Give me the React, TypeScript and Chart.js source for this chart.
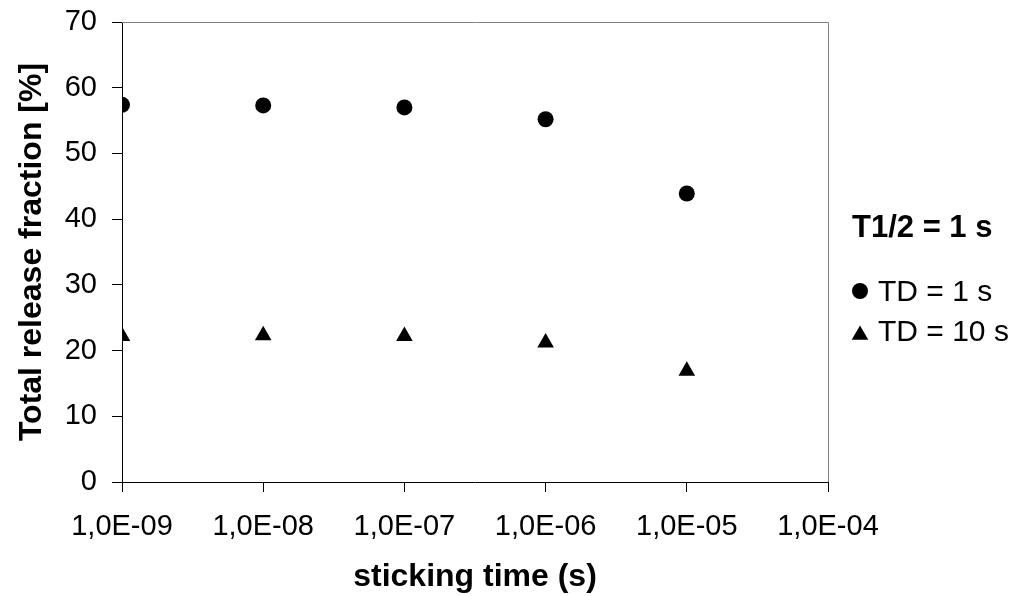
import React, { useEffect, useRef } from "react";
import { Chart, registerables } from "chart.js";

Chart.register(...registerables);

const stickingTimes = [1e-9, 1e-8, 1e-7, 1e-6, 1e-5];
const td1Values = [57.4, 57.3, 57.0, 55.2, 43.9];
const td10Values = [22.2, 22.3, 22.2, 21.2, 16.9];
const xTickValues = [1e-9, 1e-8, 1e-7, 1e-6, 1e-5, 1e-4];
const xTickLabels = ["1,0E-09", "1,0E-08", "1,0E-07", "1,0E-06", "1,0E-05", "1,0E-04"];
const yTickValues = [0, 10, 20, 30, 40, 50, 60, 70];
const seriesLabels = ["TD = 1 s", "TD = 10 s"];
const legendTitle = "T1/2 = 1 s";
const xTitle = "sticking time (s)";
const yTitle = "Total release fraction [%]";

const FONT = '"Liberation Sans", Arial, sans-serif';

const framePlugin = {
  id: "frame",
  afterDraw(chart: any) {
    const { ctx, chartArea } = chart;
    ctx.save();
    ctx.strokeStyle = "#808080";
    ctx.lineWidth = 1;
    ctx.beginPath();
    const t = Math.round(chartArea.top) + 0.5;
    const r = Math.round(chartArea.right) + 0.5;
    ctx.moveTo(Math.round(chartArea.left), t);
    ctx.lineTo(r, t);
    ctx.lineTo(r, Math.round(chartArea.bottom));
    ctx.stroke();
    ctx.restore();
  },
};

const legendPlugin = {
  id: "customLegend",
  afterDraw(chart: any) {
    const { ctx } = chart;
    ctx.save();
    ctx.fillStyle = "#000";
    ctx.textBaseline = "alphabetic";
    ctx.textAlign = "left";
    ctx.font = `bold 31px ${FONT}`;
    ctx.fillText(legendTitle, 852, 237);
    ctx.font = `30px ${FONT}`;
    const baselines = [301, 341];
    chart.data.datasets.forEach((ds: any, i: number) => {
      const b = baselines[i];
      ctx.beginPath();
      if (ds.pointStyle === "triangle") {
        const r = 9.6;
        const cx = 860;
        const cy = b - 6;
        ctx.moveTo(cx, cy - r);
        ctx.lineTo(cx + r * Math.sin(Math.PI * 2 / 3), cy + r / 2);
        ctx.lineTo(cx - r * Math.sin(Math.PI * 2 / 3), cy + r / 2);
        ctx.closePath();
      } else {
        ctx.arc(860, b - 10, 8, 0, Math.PI * 2);
      }
      ctx.fill();
      ctx.fillText(ds.label, 878, b);
    });
    ctx.restore();
  },
};

export default function App() {
  const canvasRef = useRef<HTMLCanvasElement | null>(null);

  useEffect(() => {
    if (!canvasRef.current) return;
    const chart = new Chart(canvasRef.current, {
      type: "scatter",
      data: {
        datasets: [
          {
            label: seriesLabels[0],
            data: stickingTimes.map((x, i) => ({ x, y: td1Values[i] })),
            pointStyle: "circle",
            pointRadius: 8,
            pointBorderWidth: 0,
            backgroundColor: "#000",
            borderColor: "#000",
          },
          {
            label: seriesLabels[1],
            data: stickingTimes.map((x, i) => ({ x, y: td10Values[i] })),
            pointStyle: "triangle",
            pointRadius: 9.6,
            pointBorderWidth: 0,
            backgroundColor: "#000",
            borderColor: "#000",
          },
        ],
      },
      options: {
        animation: false,
        responsive: true,
        maintainAspectRatio: false,
        events: [],
        layout: { padding: { top: 22, right: 202, bottom: 0, left: 0 } },
        plugins: {
          legend: { display: false },
          tooltip: { enabled: false },
        },
        scales: {
          x: {
            type: "logarithmic",
            min: 1e-9,
            max: 1e-4,
            afterBuildTicks: (scale: any) => {
              scale.ticks = xTickValues.map((v) => ({ value: v }));
            },
            afterFit: (scale: any) => {
              scale.height = 114;
              scale.paddingLeft = 0;
              scale.paddingRight = 0;
            },
            ticks: {
              autoSkip: false,
              maxRotation: 0,
              padding: 18,
              color: "#000",
              font: { family: FONT, size: 29 },
              callback: (_v: any, i: number) => xTickLabels[i],
            },
            grid: {
              drawOnChartArea: false,
              drawTicks: true,
              tickLength: 10,
              color: "#000",
            },
            border: { display: true, color: "#000", width: 1 },
            title: {
              display: true,
              text: xTitle,
              color: "#000",
              font: { family: FONT, size: 32, weight: "bold", lineHeight: 1.2 },
              padding: { top: 0, bottom: 0 },
            },
          },
          y: {
            type: "linear",
            min: 0,
            max: 70,
            afterBuildTicks: (scale: any) => {
              scale.ticks = yTickValues.map((v) => ({ value: v }));
            },
            afterFit: (scale: any) => {
              scale.width = 122;
              scale.paddingTop = 0;
              scale.paddingBottom = 0;
            },
            ticks: {
              padding: 15,
              color: "#000",
              font: { family: FONT, size: 29 },
              callback: (v: any) => String(v),
            },
            grid: {
              drawOnChartArea: false,
              drawTicks: true,
              tickLength: 10,
              color: "#000",
            },
            border: { display: true, color: "#000", width: 1 },
            title: {
              display: true,
              text: yTitle,
              color: "#000",
              font: { family: FONT, size: 32, weight: "bold", lineHeight: 1.2 },
              padding: { top: 13, bottom: 0 },
            },
          },
        },
      },
      plugins: [framePlugin, legendPlugin],
    } as any);
    return () => chart.destroy();
  }, []);

  return (
    <div style={{ position: "fixed", left: 0, top: 0, width: 1030, height: 596, background: "#fff" }}>
      <canvas ref={canvasRef} />
    </div>
  );
}
